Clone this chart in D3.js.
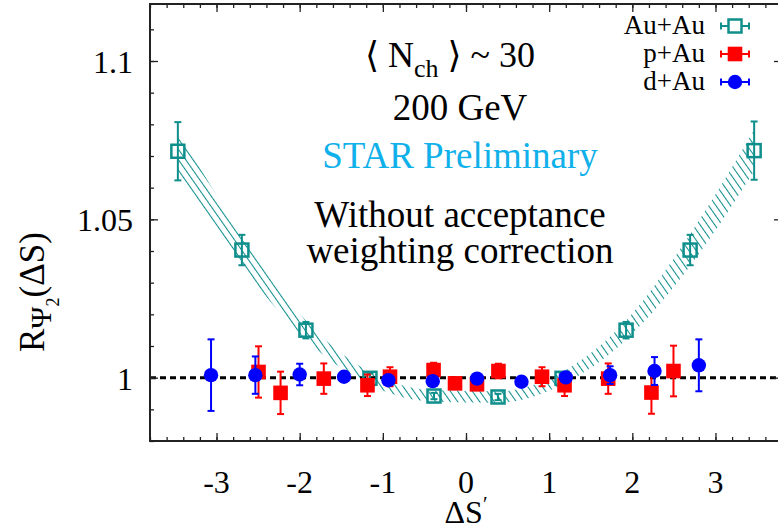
<!DOCTYPE html>
<html>
<head>
<meta charset="utf-8">
<script src="https://cdn.jsdelivr.net/npm/d3@7"></script>
<style>
  body { margin: 0; background: #fff; }
  svg { display: block; font-family: "Liberation Serif", "DejaVu Serif", serif; }
</style>
</head>
<body>
<div class="chart"></div>
<script>
// size of the page
const width = 778;
const height = 529;

// Au+Au points, stat errors and the systematic band
const auX = [-3.465, -2.695, -1.925, -1.155, -0.385, 0.385, 1.155, 1.925, 2.695, 3.465];
const auY = [1.0715, 1.0403, 1.0150, 0.9998, 0.9942, 0.9939, 0.9998, 1.0150, 1.0403, 1.0717];
const auErr = [0.0092, 0.0048, 0.0026, 0.0015, 0.0010, 0.0010, 0.0015, 0.0026, 0.0048, 0.0092];
const auSys = [0.0065, 0.0050, 0.0030, 0.0020, 0.0018, 0.0018, 0.0020, 0.0030, 0.0050, 0.0065];

// p+Au
const pX = [-2.495, -2.23, -1.71, -1.185, -0.914, -0.39, -0.132, 0.132, 0.39, 0.914, 1.185, 1.71, 2.23, 2.495];
const pY = [1.0018, 0.9952, 0.9997, 0.9976, 1.0003, 1.0024, 0.9982, 0.9979, 1.0021, 1.0003, 0.9976, 0.9997, 0.9953, 1.0021];
const pErr = [0.0081, 0.0067, 0.0048, 0.0034, 0.0030, 0.0023, 0.0015, 0.0015, 0.0023, 0.0030, 0.0034, 0.0048, 0.0067, 0.0080];

// d+Au
const dX = [-3.066, -2.533, -2.0, -1.467, -0.933, -0.4, 0.133, 0.667, 1.2, 1.733, 2.267, 2.8];
const dY = [1.0008, 1.0008, 1.0010, 1.0003, 0.9992, 0.9989, 0.9997, 0.9987, 1.0001, 1.0008, 1.0021, 1.0039];
const dErr = [0.0113, 0.0059, 0.0034, 0.0010, 0.0010, 0.0010, 0.0010, 0.0010, 0.0010, 0.0028, 0.0044, 0.0082];

// axis ticks and labels
const xMajor = [-3, -2, -1, 0, 1, 2, 3];
const yMajor = [1, 1.05, 1.1];
const yLabels = ['1', '1.05', '1.1'];

const legendNames = ['Au+Au', 'p+Au', 'd+Au'];
const infoLines = ['200 GeV', 'STAR Preliminary', 'Without acceptance', 'weighting correction'];

const teal = '#0f8f8c';
const red = '#ff0000';
const blue = '#0000ff';

let svg = d3.select('.chart').append('svg').attr('width', width).attr('height', height);

// the frame runs a little past the right edge of the picture
const x = d3.scaleLinear().domain([-3.8, 3.8]).range([150, 782]);
const y = d3.scaleLinear().domain([0.98, 1.118]).range([441, 4]);

// hatch pattern for the systematic band
let defs = svg.append('defs');
let pat = defs.append('pattern')
    .attr('id', 'hatch')
    .attr('patternUnits', 'userSpaceOnUse')
    .attr('width', 6).attr('height', 6)
    .attr('patternTransform', 'rotate(-35)');
pat.append('line')
    .attr('x1', 0.5).attr('y1', 0).attr('x2', 0.5).attr('y2', 6)
    .attr('stroke', teal).attr('stroke-width', 1.1);

defs.append('clipPath').attr('id', 'plotclip')
    .append('rect').attr('x', 150).attr('y', 4).attr('width', 632).attr('height', 437);

let plot = svg.append('g').attr('clip-path', 'url(#plotclip)');

// systematic band
let au = auX.map((v, i) => ({x: v, y: auY[i], e: auErr[i], s: auSys[i]}));
let band = d3.area()
    .x(d => x(d.x))
    .y0(d => y(d.y - d.s))
    .y1(d => y(d.y + d.s))
    .curve(d3.curveMonotoneX);
plot.append('path').datum(au).attr('d', band).attr('fill', 'url(#hatch)');

// dashed line at one
plot.append('line')
    .attr('x1', x(-3.8)).attr('x2', x(3.8))
    .attr('y1', y(1)).attr('y2', y(1))
    .attr('stroke', '#000').attr('stroke-width', 3)
    .attr('stroke-dasharray', '6,4');

function errorBars(g, data, colour){
    g.selectAll(null).data(data).join('line')
        .attr('x1', d => x(d.x)).attr('x2', d => x(d.x))
        .attr('y1', d => y(d.y - d.e)).attr('y2', d => y(d.y + d.e))
        .attr('stroke', colour).attr('stroke-width', 2);
    for(let side of [-1, 1]){
        g.selectAll(null).data(data).join('line')
            .attr('x1', d => x(d.x) - 3.5).attr('x2', d => x(d.x) + 3.5)
            .attr('y1', d => y(d.y + side * d.e)).attr('y2', d => y(d.y + side * d.e))
            .attr('stroke', colour).attr('stroke-width', 2);
    }
}

// Au+Au open squares
let gAu = plot.append('g');
errorBars(gAu, au, teal);
gAu.selectAll('rect').data(au).join('rect')
    .attr('x', d => x(d.x) - 6.5).attr('y', d => y(d.y) - 6.5)
    .attr('width', 13).attr('height', 13)
    .attr('fill', 'none').attr('stroke', teal).attr('stroke-width', 2.5);

// p+Au filled squares
let pa = pX.map((v, i) => ({x: v, y: pY[i], e: pErr[i]}));
let gP = plot.append('g');
errorBars(gP, pa, red);
gP.selectAll('rect').data(pa).join('rect')
    .attr('x', d => x(d.x) - 7.3).attr('y', d => y(d.y) - 7.3)
    .attr('width', 14.6).attr('height', 14.6)
    .attr('fill', red);

// d+Au circles
let da = dX.map((v, i) => ({x: v, y: dY[i], e: dErr[i]}));
let gD = plot.append('g');
errorBars(gD, da, blue);
gD.selectAll('circle').data(da).join('circle')
    .attr('cx', d => x(d.x)).attr('cy', d => y(d.y)).attr('r', 7.2)
    .attr('fill', blue);

// ticks on all four sides, pointing in
let xMinor = d3.range(-38, 39, 2).map(d => d / 10);
let yMinor = d3.range(98, 112).map(d => d / 100);
let axes = svg.append('g');
let tickAxis = (gen, tr) => axes.append('g').attr('transform', tr).call(gen)
    .call(g => g.selectAll('text').remove())
    .call(g => g.select('.domain').remove())
    .call(g => g.selectAll('line').attr('stroke', '#222').attr('stroke-width', 1.3));

tickAxis(d3.axisBottom(x).tickValues(xMinor).tickSize(-4), 'translate(0,441)');
tickAxis(d3.axisBottom(x).tickValues(xMajor).tickSize(-8), 'translate(0,441)');
tickAxis(d3.axisTop(x).tickValues(xMinor).tickSize(-4), 'translate(0,4)');
tickAxis(d3.axisTop(x).tickValues(xMajor).tickSize(-8), 'translate(0,4)');
tickAxis(d3.axisLeft(y).tickValues(yMinor).tickSize(-4), 'translate(150,0)');
tickAxis(d3.axisLeft(y).tickValues(yMajor).tickSize(-8), 'translate(150,0)');
tickAxis(d3.axisRight(y).tickValues(yMinor).tickSize(-4), 'translate(782,0)');
tickAxis(d3.axisRight(y).tickValues(yMajor).tickSize(-8), 'translate(782,0)');

// frame
svg.append('rect')
    .attr('x', 150).attr('y', 4).attr('width', 632).attr('height', 437)
    .attr('fill', 'none').attr('stroke', '#222').attr('stroke-width', 2);

// tick labels
svg.selectAll('.xlab').data(xMajor).join('text')
    .attr('class', 'xlab')
    .attr('x', d => x(d)).attr('y', 493)
    .attr('text-anchor', 'middle').attr('font-size', 32)
    .text(d => String(d));

svg.selectAll('.ylab').data(yMajor).join('text')
    .attr('class', 'ylab')
    .attr('x', 133).attr('y', d => y(d) + 12)
    .attr('text-anchor', 'end').attr('font-size', 32)
    .text((d, i) => yLabels[i]);

// axis titles
let xt = svg.append('text').attr('x', 466).attr('y', 523)
    .attr('text-anchor', 'middle').attr('font-size', 32);
xt.append('tspan').text('ΔS');
xt.append('tspan').attr('dy', -12).attr('font-size', 21).text('′');

let yt = svg.append('text').attr('transform', 'translate(44,352) rotate(-90)')
    .attr('font-size', 35);
yt.append('tspan').text('R');
yt.append('tspan').attr('dy', 7).attr('font-size', 30).text('Ψ');
yt.append('tspan').attr('dy', 8).attr('font-size', 18).text('2');
yt.append('tspan').attr('dy', -15).text('(ΔS)');

// text in the plot
let nch = svg.append('text').attr('x', 450).attr('y', 67)
    .attr('text-anchor', 'middle').attr('font-size', 36);
nch.append('tspan').text('⟨ N');
nch.append('tspan').attr('dy', 10).attr('font-size', 26).text('ch');
nch.append('tspan').attr('dy', -10).text(' ⟩ ~ 30');

let infoY = [120, 168, 227, 263];
svg.selectAll('.info').data(infoLines).join('text')
    .attr('class', 'info')
    .attr('x', 460).attr('y', (d, i) => infoY[i])
    .attr('text-anchor', 'middle').attr('font-size', 37)
    .attr('fill', (d, i) => i === 1 ? '#10b0ea' : '#000')
    .text(d => d);

// legend
let legY = [26, 54, 82];
let legColours = [teal, red, blue];
let leg = svg.append('g');
leg.selectAll('text').data(legendNames).join('text')
    .attr('x', 705).attr('y', (d, i) => legY[i] + 8)
    .attr('text-anchor', 'end').attr('font-size', 27)
    .text(d => d);
legendNames.forEach((n, i) => {
    let c = legColours[i];
    leg.append('line').attr('x1', 721).attr('x2', 749).attr('y1', legY[i]).attr('y2', legY[i])
        .attr('stroke', c).attr('stroke-width', 2);
    for(let ex of [721, 749]){
        leg.append('line').attr('x1', ex).attr('x2', ex).attr('y1', legY[i] - 3.5).attr('y2', legY[i] + 3.5)
            .attr('stroke', c).attr('stroke-width', 2);
    }
    if(i === 0){
        leg.append('rect').attr('x', 728.5).attr('y', legY[i] - 6.5).attr('width', 13).attr('height', 13)
            .attr('fill', '#fff').attr('stroke', c).attr('stroke-width', 2.5);
    } else if(i === 1){
        leg.append('rect').attr('x', 727.7).attr('y', legY[i] - 7.3).attr('width', 14.6).attr('height', 14.6)
            .attr('fill', c);
    } else {
        leg.append('circle').attr('cx', 735).attr('cy', legY[i]).attr('r', 7.2).attr('fill', c);
    }
});
</script>
</body>
</html>
